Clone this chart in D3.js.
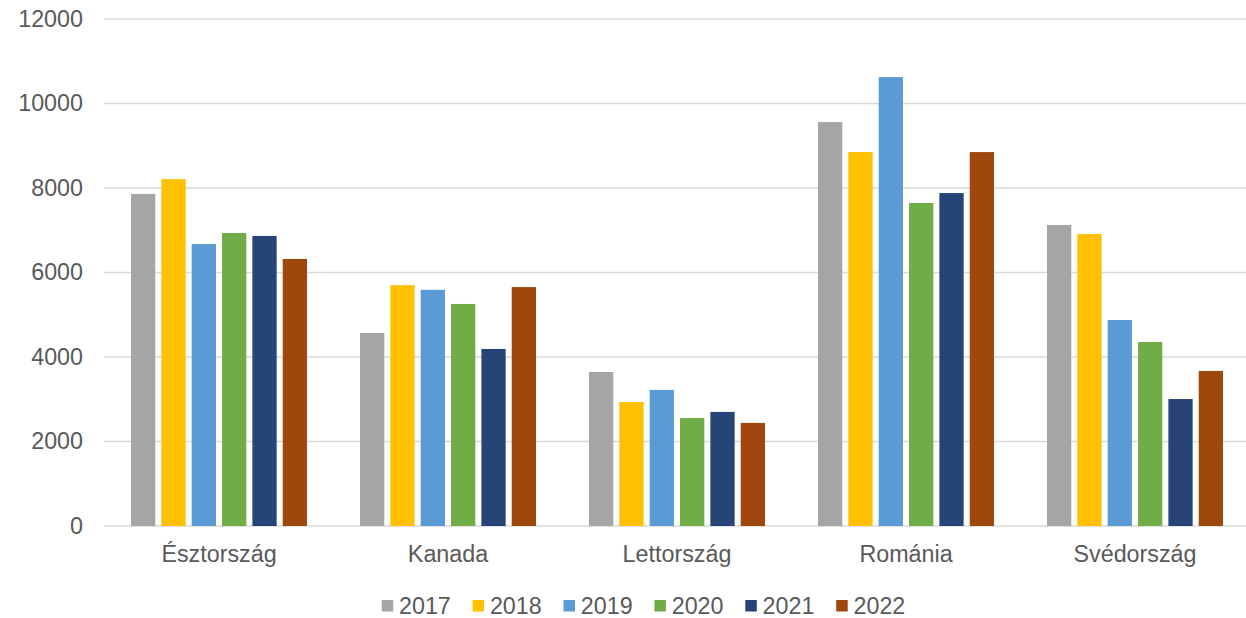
<!DOCTYPE html>
<html><head><meta charset="utf-8">
<script src="https://cdn.jsdelivr.net/npm/d3@7"></script>
<style>body{margin:0;background:#fff}svg{display:block}text{font-family:"Liberation Sans",Arial,sans-serif}</style>
</head><body><svg id="c" width="1246" height="618"></svg>
<script>
const categories = ["Észtország","Kanada","Lettország","Románia","Svédország"];
const years = ["2017","2018","2019","2020","2021","2022"];
const colors = ["#a5a5a5","#ffc000","#5b9bd5","#70ad47","#264478","#9e480e"];
const v2017 = [7860, 4570, 3645, 9560, 7125];
const v2018 = [8210, 5700, 2935, 8850, 6910];
const v2019 = [6675, 5590, 3220, 10625, 4875];
const v2020 = [6935, 5255, 2555, 7645, 4355];
const v2021 = [6865, 4190, 2700, 7880, 3005];
const v2022 = [6320, 5655, 2440, 8850, 3670];
const yTicks = [0,2000,4000,6000,8000,10000,12000];
const series = [v2017,v2018,v2019,v2020,v2021,v2022];

const FS = "23.3px";
const svg = d3.select("#c");
const x0 = d3.scaleBand().domain(categories).range([104.5,1249.5]);
const x1 = d3.scaleBand().domain(years).range([-88,88]).paddingInner(0.2);
const y = d3.scaleLinear().domain([0,12000]).range([526,19]);

svg.append("g").selectAll("line").data(yTicks).join("line")
  .attr("x1",104).attr("x2",1246).attr("y1",d=>y(d)).attr("y2",d=>y(d))
  .attr("stroke","#d9d9d9").attr("stroke-width",1.5);

const yAxis = d3.axisLeft(y).tickValues(yTicks).tickSize(0).tickPadding(0).tickFormat(d3.format("d"));
const ga = svg.append("g").attr("transform","translate(83,0)").call(yAxis);
ga.select(".domain").remove();
ga.selectAll("text").attr("fill","#595959").style("font-size",FS).style("font-family","Liberation Sans, Arial, sans-serif");

const xAxis = d3.axisBottom(x0).tickSize(0).tickPadding(0);
const gx = svg.append("g").attr("transform","translate(0,562)").call(xAxis);
gx.select(".domain").remove();
gx.selectAll("text").attr("fill","#595959").attr("y",0).attr("dy","0").style("font-size",FS).style("font-family","Liberation Sans, Arial, sans-serif");

categories.forEach((c,ci)=>{
  const g = svg.append("g").attr("transform",`translate(${x0(c)+x0.bandwidth()/2},0)`);
  g.selectAll("rect").data(years.map((yr,i)=>({yr,v:series[i][ci],col:colors[i]}))).join("rect")
    .attr("x",d=>x1(d.yr)).attr("width",x1.bandwidth())
    .attr("y",d=>y(d.v)).attr("height",d=>y(0)-y(d.v))
    .attr("fill",d=>d.col);
});

const legX = d3.scaleBand().domain(years).range([381.7,381.7+6*90.9]);
const lg = svg.append("g").selectAll("g").data(years).join("g")
  .attr("transform",d=>`translate(${legX(d)},0)`);
lg.append("rect").attr("x",0).attr("y",600).attr("width",11.5).attr("height",11.5)
  .attr("fill",(d,i)=>colors[i]);
lg.append("text").attr("x",17.3).attr("y",614).text(d=>d)
  .attr("fill","#595959").style("font-size",FS);
</script></body></html>
